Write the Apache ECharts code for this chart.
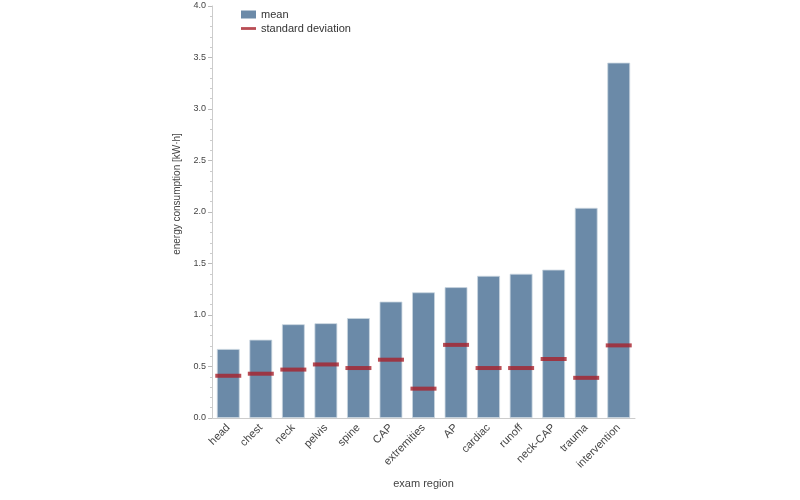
<!DOCTYPE html>
<html><head><meta charset="utf-8">
<script src="https://cdn.jsdelivr.net/npm/echarts@6/dist/echarts.min.js"></script>
<style>html,body{margin:0;padding:0;background:#fff}#c{width:800px;height:500px}</style>
</head><body><div id="c"></div>
<script>
const categories = ['head','chest','neck','pelvis','spine','CAP','extremities','AP','cardiac','runoff','neck-CAP','trauma','intervention'];
const meanValues = [0.67,0.76,0.91,0.92,0.97,1.13,1.22,1.27,1.38,1.40,1.44,2.04,3.45];
const sdValues = [0.41,0.43,0.47,0.52,0.485,0.566,0.285,0.71,0.485,0.485,0.573,0.39,0.705];
const yTicks = [0,0.5,1,1.5,2,2.5,3,3.5,4];

const chart = echarts.init(document.getElementById('c'));
chart.setOption({
  animation:false,
  textStyle:{fontFamily:'Liberation Sans, Arial, sans-serif'},
  legend:{
    orient:'vertical', left:236, top:4, itemGap:3, itemWidth:15, itemHeight:8,
    textStyle:{fontSize:11,color:'#333'},
    itemStyle:{borderWidth:0},
    data:[{name:'mean',icon:'rect'},{name:'standard deviation',icon:'path://M0,0H16V3H0Z'}]
  },
  grid:{left:212,right:165,top:6,bottom:82},
  xAxis:{
    type:'category', data:categories,
    name:'exam region', nameLocation:'middle', nameGap:60,
    nameTextStyle:{fontSize:11,color:'#444'},
    axisLine:{lineStyle:{color:'#ccc'}},
    axisTick:{show:false},
    axisLabel:{rotate:45,fontSize:11,color:'#444',margin:8}
  },
  yAxis:{
    type:'value', min:0, max:4, interval:0.5,
    name:'energy consumption [kW·h]', nameLocation:'middle', nameGap:28,
    nameTextStyle:{fontSize:10,color:'#444',padding:[0,0,0,36]},
    axisLine:{show:true,lineStyle:{color:'#ccc'}},
    axisTick:{show:true,length:4,lineStyle:{color:'#bbb'}},
    minorTick:{show:true,splitNumber:5,length:2,lineStyle:{color:'#ccc'}},
    splitLine:{show:false},
    axisLabel:{fontSize:9,color:'#444',margin:6,formatter:v=>v.toFixed(1)}
  },
  series:[
    {name:'mean',type:'bar',data:meanValues,barWidth:'70%',
     itemStyle:{color:'#6b8aa8',borderColor:'#c9d5e0',borderWidth:0.8}},
    {name:'standard deviation',type:'scatter',data:sdValues,
     symbol:'rect',symbolSize:[26,4],itemStyle:{color:'#a8202a'},z:5}
  ]
});
</script></body></html>
